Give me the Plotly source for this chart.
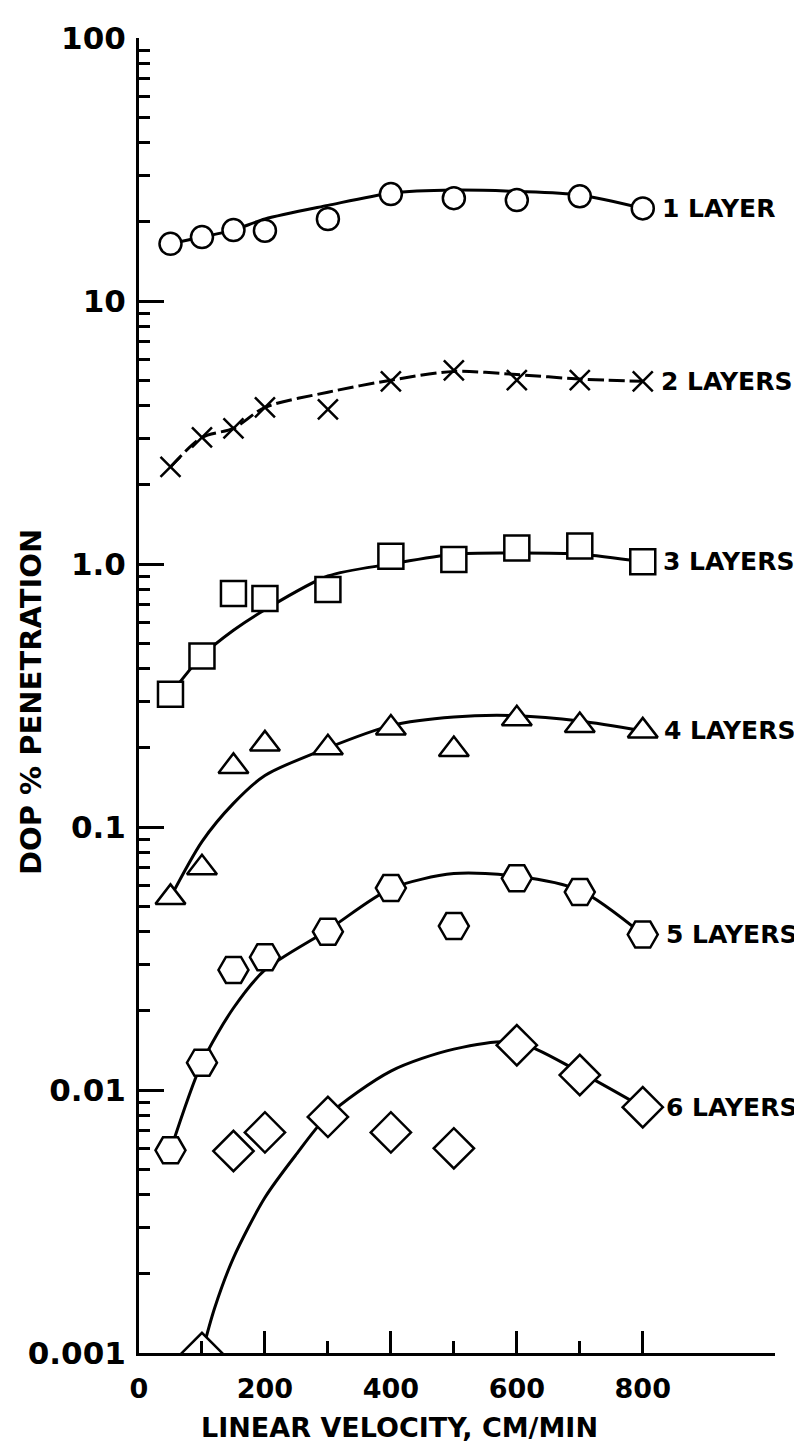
import math
import plotly.graph_objects as go

# ---- data ----
velocity = [50, 100, 150, 200, 300, 400, 500, 600, 700, 800]

layer1 = [16.5, 17.5, 18.6, 18.5, 20.5, 25.5, 24.6, 24.2, 25.0, 22.5]
layer2 = [2.34, 3.03, 3.28, 3.94, 3.87, 4.95, 5.45, 5.0, 5.0, 4.95]
layer3 = [0.32, 0.447, 0.773, 0.74, 0.80, 1.07, 1.04, 1.15, 1.17, 1.02]
layer4 = [0.054, 0.070, 0.17, 0.207, 0.20, 0.238, 0.197, 0.258, 0.243, 0.232]
layer5 = [0.0059, 0.0127, 0.0286, 0.032, 0.040, 0.0586, 0.042, 0.0638, 0.0566, 0.039]
velocity6 = [100, 150, 200, 300, 400, 500, 600, 700, 800]
layer6 = [0.001, 0.00586, 0.0069, 0.0079, 0.0069, 0.0060, 0.0148, 0.0114, 0.0086]

# hand-drawn fitted curves
curve_x = [50, 100, 150, 200, 300, 400, 500, 600, 700, 800]
curve1 = [16.5, 17.5, 18.6, 20.5, 23.1, 25.7, 26.4, 26.1, 25.3, 22.5]
curve2 = [2.34, 3.03, 3.28, 3.94, 4.5, 5.0, 5.4, 5.25, 5.05, 4.95]
curve3 = [0.32, 0.447, 0.56, 0.67, 0.90, 1.0, 1.09, 1.10, 1.09, 1.02]
curve4 = [0.054, 0.088, 0.123, 0.157, 0.20, 0.243, 0.262, 0.265, 0.253, 0.232]
curve5 = [0.0059, 0.0127, 0.0205, 0.0286, 0.0406, 0.0583, 0.0665, 0.0650, 0.0575, 0.039]
curve6_x = [100, 120, 150, 200, 250, 300, 400, 500, 600, 700, 800]
curve6 = [0.001, 0.00148, 0.0023, 0.0039, 0.0057, 0.008, 0.0118, 0.0143, 0.0152, 0.0117, 0.0086]

labels = ["1 LAYER", "2 LAYERS", "3 LAYERS", "4 LAYERS", "5 LAYERS", "6 LAYERS"]
y_tickvals = [0.001, 0.01, 0.1, 1, 10, 100]
y_ticktext = ["0.001", "0.01", "0.1", "1.0", "10", "100"]
x_tickvals = [0, 200, 400, 600, 800]
x_minor = [100, 300, 500, 700]

FONT = "DejaVu Sans"

fig = go.Figure()

curves = [
    (curve_x, curve1, "solid"),
    (curve_x, curve2, "16px,5px"),
    (curve_x, curve3, "solid"),
    (curve_x, curve4, "solid"),
    (curve_x, curve5, "solid"),
    (curve6_x, curve6, "solid"),
]
for cx, cy, dash in curves:
    fig.add_trace(go.Scatter(x=cx, y=cy, mode="lines",
                             line=dict(color="black", width=3, dash=dash, shape="spline", smoothing=0.8),
                             showlegend=False, hoverinfo="skip"))

series = [
    (velocity, layer1, "circle", 22),
    (velocity, layer2, "x-thin", 20),
    (velocity, layer3, "square", 25),
    (velocity, layer4, "triangle-up", 26),
    (velocity, layer5, "hexagon2", 30),
    (velocity6, layer6, "diamond", 31),
]
for sx, sy, sym, size in series:
    fig.add_trace(go.Scatter(x=sx, y=sy, mode="markers",
                             marker=dict(symbol=sym, size=size, color="white",
                                         line=dict(color="black", width=2.5)),
                             showlegend=False))

for (sx, sy, _, size), lab in zip(series, labels):
    fig.add_annotation(x=sx[-1], y=math.log10(sy[-1]), yref="y", xref="x", text=lab,
                       xanchor="left", yanchor="middle", xshift=max(16, size * 0.5 + 6),
                       showarrow=False,
                       font=dict(family=FONT, size=25, color="black", weight="bold"))

# axis titles placed as annotations
fig.add_annotation(x=0.41, y=-0.057, xref="paper", yref="paper", text="LINEAR VELOCITY, CM/MIN",
                   xanchor="center", yanchor="middle", showarrow=False,
                   font=dict(family=FONT, size=27, color="black", weight="bold"))
fig.add_annotation(x=-0.17, y=0.495, xref="paper", yref="paper", text="DOP % PENETRATION",
                   textangle=-90, xanchor="center", yanchor="middle", showarrow=False,
                   font=dict(family=FONT, size=29, color="black", weight="bold"))

# ticks on log axis: decade majors + minors 2..9
y_minor = [m * d for d in [0.001, 0.01, 0.1, 1, 10] for m in range(2, 10)]

fig.update_xaxes(range=[0, 1010], showline=True, linecolor="black", linewidth=3,
                 tickvals=x_tickvals, ticks="inside", ticklen=22, tickwidth=2.5, tickcolor="black",
                 minor=dict(tickvals=x_minor, ticks="inside", ticklen=12, tickwidth=2.5, tickcolor="black"),
                 showgrid=False, zeroline=False, ticklabelstandoff=10,
                 tickfont=dict(family=FONT, size=27, color="black", weight="bold"))
fig.update_yaxes(type="log", range=[-3, 2], showline=True, linecolor="black", linewidth=3,
                 tickvals=y_tickvals, ticktext=y_ticktext, ticks="inside", ticklen=25,
                 tickwidth=3, tickcolor="black",
                 minor=dict(tickvals=y_minor, ticks="inside", ticklen=11, tickwidth=2.5, tickcolor="black"),
                 showgrid=False, zeroline=False, ticklabelstandoff=4,
                 tickfont=dict(family=FONT, size=31, color="black", weight="bold"))

fig.update_layout(width=802, height=1446, plot_bgcolor="white", paper_bgcolor="white",
                  margin=dict(l=131, r=35, t=24, b=101))

fig.write_html("out.html")
